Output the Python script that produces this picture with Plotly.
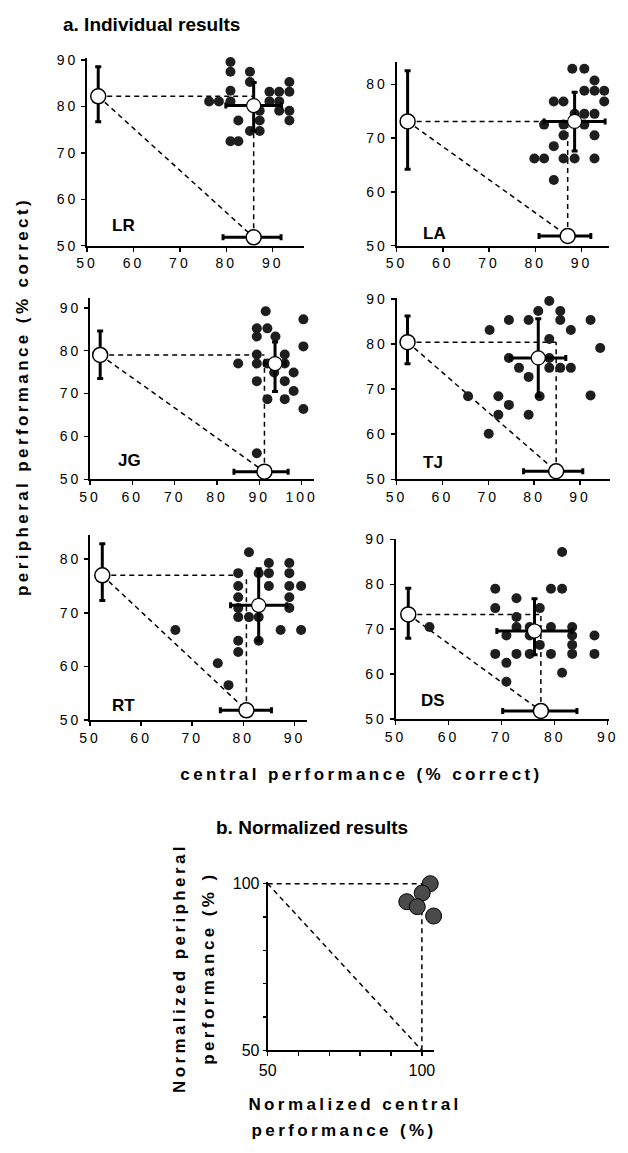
import plotly.graph_objects as go

W, H = 628, 1153

subjects = ["LR", "LA", "JG", "TJ", "RT", "DS"]

# single-task performance (% correct): peripheral alone and central alone
periph_alone = [82.2, 73.1, 79.0, 80.4, 77.0, 73.3]
periph_alone_err_up = [6.4, 9.4, 5.6, 5.8, 5.9, 5.8]
periph_alone_err_dn = [5.5, 8.9, 5.5, 4.8, 4.7, 5.3]
central_alone = [85.9, 87.0, 91.2, 84.8, 80.6, 77.4]
central_alone_err_lo = [6.6, 6.2, 7.2, 7.1, 5.1, 7.2]
central_alone_err_hi = [5.9, 5.0, 5.6, 5.8, 4.9, 6.8]

# dual-task means
dual_central = [85.9, 88.5, 93.7, 80.9, 83.0, 76.2]
dual_central_err = [6.0, 6.6, 2.5, 6.0, 5.5, 7.1]
dual_periph = [80.2, 73.1, 77.0, 76.9, 71.4, 69.6]
dual_periph_err_up = [5.0, 5.4, 5.0, 8.7, 6.8, 7.2]
dual_periph_err_dn = [5.5, 5.5, 6.5, 8.5, 6.6, 5.3]

# individual dual-task blocks
LR_central = [80.9, 80.9, 85.1, 85.1, 80.9, 89.3, 91.4, 93.6, 93.6, 76.3, 78.4, 80.9,
              89.3, 91.4, 91.4, 93.6, 93.6, 87.2, 87.2, 82.6, 85.1, 87.2, 80.9, 82.6]
LR_periph = [89.6, 87.5, 87.5, 85.3, 83.4, 83.2, 83.2, 85.3, 83.2, 81.1, 81.1, 81.1,
             81.1, 81.1, 79.1, 79.1, 77.0, 79.1, 77.0, 77.0, 74.7, 74.7, 72.5, 72.5]

LA_central = [88.0, 90.6, 92.8, 90.6, 92.8, 94.9, 84.0, 86.1, 94.9, 88.5, 90.6, 92.8,
              81.9, 86.1, 90.6, 86.1, 92.8, 84.0, 79.8, 81.9, 86.1, 88.5, 92.8, 84.0]
LA_periph = [82.9, 82.9, 80.7, 78.8, 78.8, 78.8, 76.8, 76.8, 76.8, 74.5, 74.5, 74.5,
             72.5, 72.5, 72.5, 70.5, 70.5, 68.5, 66.2, 66.2, 66.2, 66.2, 66.2, 62.2]

JG_central = [91.5, 100.4, 89.4, 91.9, 89.4, 93.8, 100.4, 89.4, 96.0, 85.0, 89.4, 91.9,
              96.0, 93.5, 98.1, 89.4, 96.0, 98.1, 91.9, 96.0, 100.4, 89.4]
JG_periph = [89.2, 87.3, 85.2, 85.2, 83.3, 83.3, 81.0, 79.1, 79.1, 77.0, 77.0, 77.0,
             77.0, 74.9, 74.9, 72.9, 72.9, 70.6, 68.7, 68.7, 66.4, 56.1]

TJ_central = [83.3, 80.9, 85.7, 74.5, 78.8, 85.7, 92.3, 70.3, 88.0, 83.3, 94.4, 74.5,
              83.3, 76.7, 83.3, 85.7, 88.0, 78.8, 65.6, 72.2, 81.2, 92.3, 74.5, 72.2,
              78.8, 70.1]
TJ_periph = [89.5, 87.3, 87.3, 85.3, 85.3, 85.3, 85.3, 83.1, 83.1, 81.1, 79.1, 76.9,
             76.9, 74.7, 74.7, 74.7, 74.7, 72.7, 68.4, 68.4, 68.4, 68.6, 66.5, 64.3,
             64.3, 60.1]

RT_central = [81.1, 85.0, 89.0, 79.0, 83.0, 85.0, 89.0, 79.0, 85.0, 89.0, 91.3, 79.0,
              89.0, 79.0, 89.0, 79.0, 81.1, 83.0, 87.3, 91.3, 66.7, 79.0, 83.0, 79.0,
              75.0, 77.1]
RT_periph = [81.3, 79.3, 79.3, 77.4, 77.4, 77.4, 77.4, 75.0, 75.0, 75.0, 75.0, 72.9,
             72.9, 70.9, 70.9, 69.2, 69.2, 69.2, 66.8, 66.8, 66.8, 64.8, 64.8, 62.7,
             60.6, 56.5]

DS_central = [81.4, 68.8, 79.3, 81.4, 72.8, 68.8, 77.2, 72.8, 72.8, 75.3, 79.3, 83.3,
              70.9, 75.3, 83.3, 87.5, 77.2, 83.3, 68.8, 72.8, 75.3, 79.3, 83.3, 87.5,
              70.9, 81.4, 70.9, 56.4]
DS_periph = [87.2, 79.0, 79.0, 79.0, 76.9, 74.7, 74.7, 72.7, 70.5, 70.5, 70.5, 70.5,
             68.6, 68.6, 68.6, 68.6, 66.5, 66.5, 64.5, 64.5, 64.5, 64.5, 64.5, 64.5,
             62.5, 60.3, 58.3, 70.5]

blocks_central = [LR_central, LA_central, JG_central, TJ_central, RT_central, DS_central]
blocks_periph = [LR_periph, LA_periph, JG_periph, TJ_periph, RT_periph, DS_periph]

# normalized results (panel b)
norm_central = [102.7, 100.1, 104.1, 95.1, 98.5, 103.8]
norm_periph = [100.0, 97.2, 96.4, 94.6, 93.1, 90.3]

x_ticks = [[50, 60, 70, 80, 90], [50, 60, 70, 80, 90], [50, 60, 70, 80, 90, 100],
           [50, 60, 70, 80, 90], [50, 60, 70, 80, 90], [50, 60, 70, 80, 90]]
y_ticks = [[50, 60, 70, 80, 90], [50, 60, 70, 80], [50, 60, 70, 80, 90],
           [50, 60, 70, 80, 90], [50, 60, 70, 80], [50, 60, 70, 80, 90]]
b_ticks = [50, 60, 70, 80, 90, 100]
b_ticklabels = ["50", "", "", "", "", "100"]

# ---------------- layout geometry (pixels) ----------------
ALONE_POS = 52.4     # where single-task markers sit along the other axis
BOX = [(80, 302, 52, 242), (397, 615, 56, 242), (83, 312, 295, 479),
       (397, 616, 295, 479), (83, 305, 535, 723), (396, 615, 539, 722)]
XR = [[50, 96.7], [50, 96.0], [50, 102.8], [50, 96.6], [50, 92.4], [50, 90.3]]
YR = [[50, 90.4], [50, 84.1], [50, 92.3], [50, 90.2], [50, 84.6], [50, 90.2]]
LABEL_POS = [(103, 222), (422, 230), (110, 460), (422, 462), (103, 708), (420, 703)]
BOX_B = (265, 435, 887, 1058)

SANS = "Liberation Sans, Arial, sans-serif"
TICK_FONT = dict(family=SANS, size=14, color="black")
TITLE_FONT = dict(family=SANS, size=17, color="black")
DASH = "5px,4px"


def px_x(p):
    return p / W


def px_y(p):
    return 1 - p / H


fig = go.Figure()
layout = dict(width=W, height=H, margin=dict(l=0, r=0, t=0, b=0),
              plot_bgcolor="white", paper_bgcolor="white", showlegend=False,
              hovermode=False)


def axis_common():
    return dict(showline=True, linewidth=2, linecolor="black", mirror=False,
                ticks="outside", ticklen=4, tickwidth=1.5, tickcolor="black",
                showgrid=False, zeroline=False, fixedrange=True, tickangle=0,
                tickfont=TICK_FONT)


annotations = []

for i, s in enumerate(subjects):
    n = "" if i == 0 else str(i + 1)
    xa, ya = "x" + n, "y" + n
    l, r, t, b = BOX[i]
    xax = axis_common()
    xax.update(domain=[px_x(l), px_x(r)], range=XR[i], anchor=ya,
               tickmode="array", tickvals=x_ticks[i])
    yax = axis_common()
    yax.update(domain=[px_y(b), px_y(t)], range=YR[i], anchor=xa,
               tickmode="array", tickvals=y_ticks[i])
    layout["xaxis" + n] = xax
    layout["yaxis" + n] = yax

    pa, ca = periph_alone[i], central_alone[i]
    base = ALONE_POS - 0.6
    dash_line = dict(color="black", width=1.5, dash=DASH)
    # horizontal, vertical and diagonal dashed reference lines
    fig.add_trace(go.Scatter(x=[ALONE_POS, ca], y=[pa, pa], mode="lines",
                             line=dash_line, xaxis=xa, yaxis=ya, cliponaxis=False))
    fig.add_trace(go.Scatter(x=[ca, ca], y=[base, pa], mode="lines",
                             line=dash_line, xaxis=xa, yaxis=ya, cliponaxis=False))
    fig.add_trace(go.Scatter(x=[ALONE_POS, ca], y=[pa, base], mode="lines",
                             line=dash_line, xaxis=xa, yaxis=ya, cliponaxis=False))
    # individual blocks
    fig.add_trace(go.Scatter(x=blocks_central[i], y=blocks_periph[i], mode="markers",
                             marker=dict(size=10, color="#1e1e1e"),
                             xaxis=xa, yaxis=ya, cliponaxis=False))
    err_style = dict(color="black", thickness=3, width=3)
    # dual-task mean
    fig.add_trace(go.Scatter(
        x=[dual_central[i]], y=[dual_periph[i]], mode="markers",
        marker=dict(size=14, color="white", line=dict(color="black", width=1.2)),
        error_x=dict(type="data", array=[dual_central_err[i]], **err_style),
        error_y=dict(type="data", symmetric=False, array=[dual_periph_err_up[i]],
                     arrayminus=[dual_periph_err_dn[i]], **err_style),
        xaxis=xa, yaxis=ya, cliponaxis=False))
    # peripheral alone
    fig.add_trace(go.Scatter(
        x=[ALONE_POS], y=[pa], mode="markers",
        marker=dict(size=15, color="white", line=dict(color="black", width=1.5)),
        error_y=dict(type="data", symmetric=False, array=[periph_alone_err_up[i]],
                     arrayminus=[periph_alone_err_dn[i]], **err_style),
        xaxis=xa, yaxis=ya, cliponaxis=False))
    # central alone
    fig.add_trace(go.Scatter(
        x=[ca], y=[base], mode="markers",
        marker=dict(size=15, color="white", line=dict(color="black", width=1.5)),
        error_x=dict(type="data", symmetric=False, array=[central_alone_err_hi[i]],
                     arrayminus=[central_alone_err_lo[i]], **err_style),
        xaxis=xa, yaxis=ya, cliponaxis=False))

    lx, ly = LABEL_POS[i]
    annotations.append(dict(text="<b>%s</b>" % s, x=px_x(lx), y=px_y(ly),
                            xref="paper", yref="paper", xanchor="left",
                            yanchor="middle", showarrow=False,
                            font=dict(family=SANS, size=17, color="black")))

# ---------------- panel b ----------------
l, r, t, b = BOX_B
b_tickfont = dict(family=SANS, size=16, color="black")
xb = axis_common()
xb.update(domain=[px_x(l), px_x(r)], range=[50, 103.8], anchor="y7",
          tickmode="array", tickvals=b_ticks, ticktext=b_ticklabels,
          tickfont=b_tickfont)
yb = axis_common()
yb.update(domain=[px_y(b), px_y(t)], range=[50, 100.6], anchor="x7",
          tickmode="array", tickvals=b_ticks, ticktext=b_ticklabels, ticklen=3,
          tickfont=b_tickfont)
layout["xaxis7"] = xb
layout["yaxis7"] = yb

dash_b = dict(color="black", width=1.5, dash=DASH)
fig.add_trace(go.Scatter(x=[50, 100], y=[100, 100], mode="lines", line=dash_b,
                         xaxis="x7", yaxis="y7", cliponaxis=False))
fig.add_trace(go.Scatter(x=[100, 100], y=[50, 100], mode="lines", line=dash_b,
                         xaxis="x7", yaxis="y7", cliponaxis=False))
fig.add_trace(go.Scatter(x=[50, 100], y=[100, 50], mode="lines", line=dash_b,
                         xaxis="x7", yaxis="y7", cliponaxis=False))
fig.add_trace(go.Scatter(x=norm_central, y=norm_periph, mode="markers",
                         marker=dict(size=16, color="#4a4a4a",
                                     line=dict(color="black", width=1)),
                         xaxis="x7", yaxis="y7", cliponaxis=False))


# ---------------- titles ----------------
def ann(text, x, y, font, angle=0):
    annotations.append(dict(text=text, x=px_x(x), y=px_y(y), xref="paper",
                            yref="paper", xanchor="center", yanchor="middle",
                            showarrow=False, textangle=angle, font=font))


head_font = dict(family=SANS, size=19, color="black")
ann("<b>a. Individual results</b>", 146, 18, head_font)
ann("<b>b. Normalized results</b>", 310, 832, head_font)
first_spaced = len(annotations)
ann("<b>peripheral performance (% correct)</b>", 14, 395, TITLE_FONT, angle=-90)
ann("<b>central performance (% correct)</b>", 361, 778, TITLE_FONT)
ann("<b>Normalized peripheral</b>", 175, 974, TITLE_FONT, angle=-90)
ann("<b>performance (% )</b>", 204, 975, TITLE_FONT, angle=-90)
ann("<b>Normalized central</b>", 354, 1113, TITLE_FONT)
ann("<b>performance (%)</b>", 343, 1139, TITLE_FONT)

layout["annotations"] = annotations
fig.update_layout(**layout)

# page without default body margin; wide letter spacing as in the original figure
sel_titles = ", ".join('.annotation[data-index="%d"] text' % k
                       for k in range(first_spaced, len(annotations)))
tick_ids = ["x", "y"] + ["%s%d" % (a, k) for k in range(2, 7) for a in ("x", "y")]
sel_ticks = ", ".join("g.%stick text" % t for t in tick_ids)
css = ("html, body {margin:0; padding:0; overflow:hidden;} "
       "%s {letter-spacing: 3.4px;} %s {letter-spacing: 3px;}" % (sel_titles, sel_ticks))
post = ("var st=document.createElement('style');st.textContent=%r;"
        "document.head.appendChild(st);" % css)
fig.write_html("out.html", post_script=post,
               config={"displayModeBar": False, "staticPlot": True})
